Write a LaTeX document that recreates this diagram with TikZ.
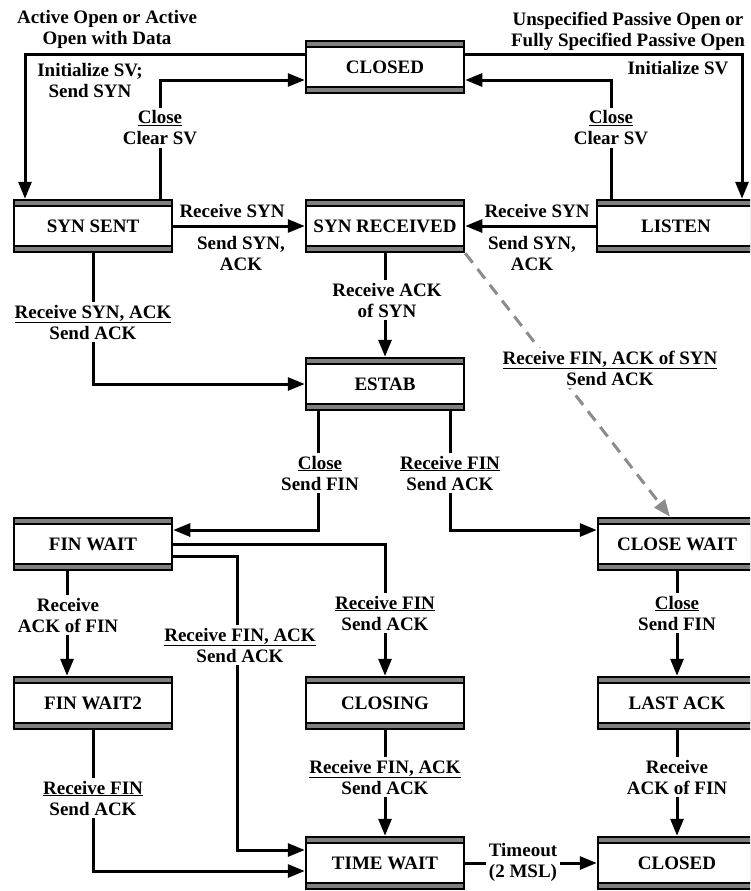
\documentclass[tikz,border=0pt]{standalone}
\usepackage{fontspec}
\setmainfont{Liberation Serif}
\usetikzlibrary{arrows.meta}
\tikzset{
  stbox/.style={draw=black, line width=2.5pt, fill=black!50,
    minimum width=158pt, minimum height=52pt, inner sep=0pt,
    font=\fontsize{19}{21}\selectfont\bfseries,
    path picture={\draw[black, line width=2.5pt, fill=white]
      ([yshift=-6pt]path picture bounding box.north west) rectangle
      ([yshift=6pt]path picture bounding box.south east);}},
  conn/.style={draw=black, line width=3pt,
    -{Triangle[length=17pt,width=13pt]}},
  dconn/.style={draw=black!45, line width=3pt, dash pattern=on 12pt off 8pt,
    -{Triangle[length=17pt,width=13pt]}},
  lbl/.style={align=center, inner sep=2pt,
    font=\fontsize{19}{21}\selectfont\bfseries},
  wlbl/.style={lbl, fill=white, inner sep=3pt},
}
\begin{document}
\begin{tikzpicture}[x=1pt,y=-1pt]
\useasboundingbox (0,0) rectangle (750,891);
\clip (0,0) rectangle (750,891);
\fill[white] (0,0) rectangle (750,891);

% states
\node[stbox] (closedA) at (385,67) {CLOSED};
\node[stbox] (synsent) at (93,226) {SYN SENT};
\node[stbox] (synrcvd) at (385,226) {SYN RECEIVED};
\node[stbox] (listen) at (676,226) {LISTEN};
\node[stbox] (estab) at (385,384) {ESTAB};
\node[stbox] (finwait) at (93,544) {FIN WAIT};
\node[stbox] (closewait) at (677,544) {CLOSE WAIT};
\node[stbox] (finwaittwo) at (93,703) {FIN WAIT2};
\node[stbox] (closing) at (385,703) {CLOSING};
\node[stbox] (lastack) at (677,703) {LAST ACK};
\node[stbox] (timewait) at (385,863) {TIME WAIT};
\node[stbox] (closedB) at (677,863) {CLOSED};

% connectors
\draw[conn] ([yshift=12pt]closedA.west) -| ([xshift=-68pt]synsent.north);
\draw[conn] ([xshift=67pt]synsent.north) |- ([yshift=-13pt]closedA.west);
\draw[conn] ([yshift=12pt]closedA.east) -| ([xshift=66pt]listen.north);
\draw[conn] ([xshift=-65pt]listen.north) |- ([yshift=-13pt]closedA.east);
\draw[conn] (synsent.east) -- (synrcvd.west);
\draw[conn] (listen.west) -- (synrcvd.east);
\draw[conn] (synsent.south) |- (estab.west);
\draw[conn] (synrcvd.south) -- (estab.north);
\draw[dconn] (synrcvd.south east) -- ([xshift=-7pt]closewait.north);
\draw[conn] ([xshift=-67pt]estab.south) |- ([yshift=14pt]finwait.east);
\draw[conn] ([xshift=65pt]estab.south) |- ([yshift=14pt]closewait.west);
\draw[conn] (finwait.east) -| (closing.north);
\draw[conn] ([yshift=-12pt]finwait.east) -| ([xshift=-67pt,yshift=13pt]timewait.west) -- ([yshift=13pt]timewait.west);
\draw[conn] ([xshift=-26pt]finwait.south) -- ([xshift=-26pt]finwaittwo.north);
\draw[conn] (finwaittwo.south) |- ([yshift=-8pt]timewait.west);
\draw[conn] (closing.south) -- (timewait.north);
\draw[conn] (closewait.south) -- (lastack.north);
\draw[conn] (lastack.south) -- (closedB.north);
\draw[conn] (timewait.east) -- (closedB.west);

% labels
\node[lbl] (l1) at (107,29) {Active Open or Active\\Open with Data};
\node[lbl] (l2) at (90,81) {Initialize SV;\\Send SYN};
\node[wlbl] (l3) at (160,128) {\underline{Close}\\Clear SV};
\node[lbl] (l4) at (628,31) {Unspecified Passive Open or\\Fully Specified Passive Open};
\node[lbl] (l5) at (678,68) {Initialize SV};
\node[wlbl] (l6) at (611,128) {\underline{Close}\\Clear SV};
\node[lbl] (l7) at (232,211) {Receive SYN};
\node[lbl] (l8) at (241,253) {Send SYN,\\ACK};
\node[lbl] (l9) at (537,211) {Receive SYN};
\node[lbl] (l10) at (532,253) {Send SYN,\\ACK};
\node[wlbl] (l11) at (93,322) {\underline{Receive SYN, ACK}\\Send ACK};
\node[wlbl] (l12) at (387,300) {Receive ACK\\of SYN};
\node[wlbl] (l13) at (610,368) {\underline{Receive FIN, ACK of SYN}\\Send ACK};
\node[wlbl] (l14) at (320,473) {\underline{Close}\\Send FIN};
\node[wlbl] (l15) at (450,473) {\underline{Receive FIN}\\Send ACK};
\node[wlbl] (l16) at (385,613) {\underline{Receive FIN}\\Send ACK};
\node[wlbl] (l17) at (240,645) {\underline{Receive FIN, ACK}\\Send ACK};
\node[wlbl] (l18) at (68,615) {Receive\\ACK of FIN};
\node[wlbl] (l19) at (93,798) {\underline{Receive FIN}\\Send ACK};
\node[wlbl] (l20) at (385,777) {\underline{Receive FIN, ACK}\\Send ACK};
\node[wlbl] (l21) at (677,613) {\underline{Close}\\Send FIN};
\node[wlbl] (l22) at (677,777) {Receive\\ACK of FIN};
\node[wlbl] (l23) at (523,862) {Timeout\\(2 MSL)};
\end{tikzpicture}
\end{document}
